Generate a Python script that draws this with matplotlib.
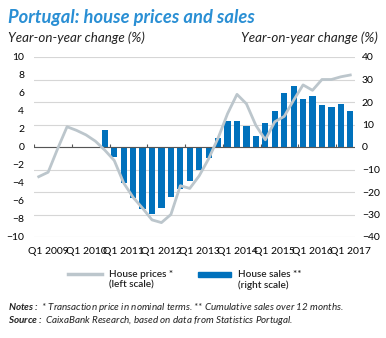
import matplotlib
matplotlib.use("Agg")
import matplotlib.pyplot as plt
from matplotlib.lines import Line2D
from matplotlib.patches import Rectangle

plt.rcParams["font.family"] = ["Lato", "DejaVu Sans"]
plt.rcParams["mathtext.fontset"] = "custom"
plt.rcParams["mathtext.bf"] = "Lato:bold:italic"

# quarters from Q4 2008 to Q1 2017 (index 0..33)
QUARTER_LABELS = ["Q1 2009", "Q1 2010", "Q1 2011", "Q1 2012", "Q1 2013",
                  "Q1 2014", "Q1 2015", "Q1 2016", "Q1 2017"]
LABEL_POS = [1, 5, 9, 13, 17, 21, 25, 29, 33]
BOUNDARY_POS = [-0.5, 3.5, 7.5, 11.5, 15.5, 19.5, 23.5, 27.5, 31.5]

# house prices, yoy % (left scale), Q4 2008 .. Q1 2017
price_x = list(range(34))
price_yoy = [-3.3, -2.8, -0.2, 2.25, 1.85, 1.35, 0.65, -0.35, -1.5, -4.0,
             -5.6, -6.8, -8.1, -8.4, -7.5, -4.3, -4.6, -3.2, -1.3, 1.0,
             3.7, 5.85, 4.8, 2.4, 0.8, 2.8, 3.4, 5.2, 6.9, 6.3,
             7.5, 7.5, 7.8, 8.0]

# house sales, yoy % (right scale), Q3 2010 .. Q1 2017
sales_x = list(range(7, 34))
sales_yoy = [7.7, -4.4, -16.0, -22.7, -27.5, -29.6, -27.0, -22.4, -18.5, -15.0,
             -10.0, -5.0, 4.0, 11.5, 11.7, 9.5, 5.0, 10.8, 15.8, 24.0,
             27.0, 21.3, 22.6, 18.6, 17.8, 19.3, 16.1]

LEFT_TICKS = list(range(-10, 11, 2))
RIGHT_TICKS = list(range(-40, 41, 10))

BLUE = "#0071BC"
LINE_GREY = "#BCC6CC"
TITLE_BLUE = "#2A8FD4"
TEXT = "#222222"
AXIS_GREY = "#555555"
W, H = 386, 338


def fx(x):
    return x / W


def fy(y):
    return 1 - y / H


fig = plt.figure(figsize=(W / 100, H / 100), dpi=100)

ax2 = fig.add_axes([fx(34), fy(237), fx(355) - fx(34), fy(57) - fy(237)])
ax = ax2.twinx()
ax.set_zorder(ax2.get_zorder() + 1)
ax.patch.set_visible(False)

# right axis: bars + grid
ax2.bar(sales_x, sales_yoy, width=0.66, color=BLUE, zorder=2)
ax2.set_ylim(-40, 40)
ax2.set_yticks(RIGHT_TICKS)
ax2.grid(axis="y", color="#D6D6D6", linewidth=0.8, zorder=0)
ax2.set_axisbelow(True)
ax2.yaxis.tick_right()
ax2.tick_params(axis="y", length=0, pad=5, labelsize=7.5)
ax2.set_xlim(-0.5, 33.5)
ax2.set_xticks(LABEL_POS)
ax2.set_xticklabels(QUARTER_LABELS)
ax2.tick_params(axis="x", length=0, pad=7, labelsize=7.5)

# left axis: zero line with quarter boundary ticks, then price line
ax.axhline(0, color=AXIS_GREY, linewidth=0.8, zorder=2)
ax.vlines(BOUNDARY_POS, 0, 0.35, color=AXIS_GREY, linewidth=0.8, zorder=2)
ax.plot(price_x, price_yoy, color=LINE_GREY, linewidth=2.0, zorder=3)
ax.set_ylim(-10, 10)
ax.set_yticks(LEFT_TICKS)
ax.yaxis.tick_left()
ax.tick_params(axis="y", length=0, pad=7, labelsize=7.5)

for a in (ax, ax2):
    for s in a.spines.values():
        s.set_visible(False)

# titles
fig.text(fx(8), fy(23), "Portugal: house prices and sales", color=TITLE_BLUE,
         fontsize=13.2, fontweight="bold", fontstyle="italic", va="baseline")
fig.text(fx(8), fy(42), "Year-on-year change (%)", color=TEXT,
         fontsize=9.6, fontstyle="italic", va="baseline")
fig.text(fx(378), fy(42), "Year-on-year change (%)", color=TEXT,
         fontsize=9.6, fontstyle="italic", va="baseline", ha="right")

# legend
fig.add_artist(Line2D([fx(68), fx(102)], [fy(274), fy(274)], color=LINE_GREY,
                      linewidth=2.5))
fig.add_artist(Rectangle((fx(198), fy(276.5)), fx(231) - fx(198),
                         fy(271.5) - fy(276.5), color=BLUE))
fig.text(fx(109), fy(277), "House prices *", fontsize=7.2, color=TEXT,
         va="baseline", fontweight="semibold")
fig.text(fx(109), fy(288), "(left scale)", fontsize=7.2, color=TEXT,
         va="baseline", fontweight="semibold")
fig.text(fx(238), fy(277), "House sales **", fontsize=7.2, color=TEXT,
         va="baseline", fontweight="semibold")
fig.text(fx(238), fy(288), "(right scale)", fontsize=7.2, color=TEXT,
         va="baseline", fontweight="semibold")

# notes
fig.text(fx(8), fy(310), r"$\mathbf{Notes:}$ * Transaction price in nominal terms. ** Cumulative sales over 12 months.",
         fontsize=7.1, fontstyle="italic", color=TEXT, va="baseline")
fig.text(fx(8), fy(323), r"$\mathbf{Source:}$ CaixaBank Research, based on data from Statistics Portugal.",
         fontsize=7.1, fontstyle="italic", color=TEXT, va="baseline")

fig.canvas.draw()
fig.savefig("out.png", dpi=100)
